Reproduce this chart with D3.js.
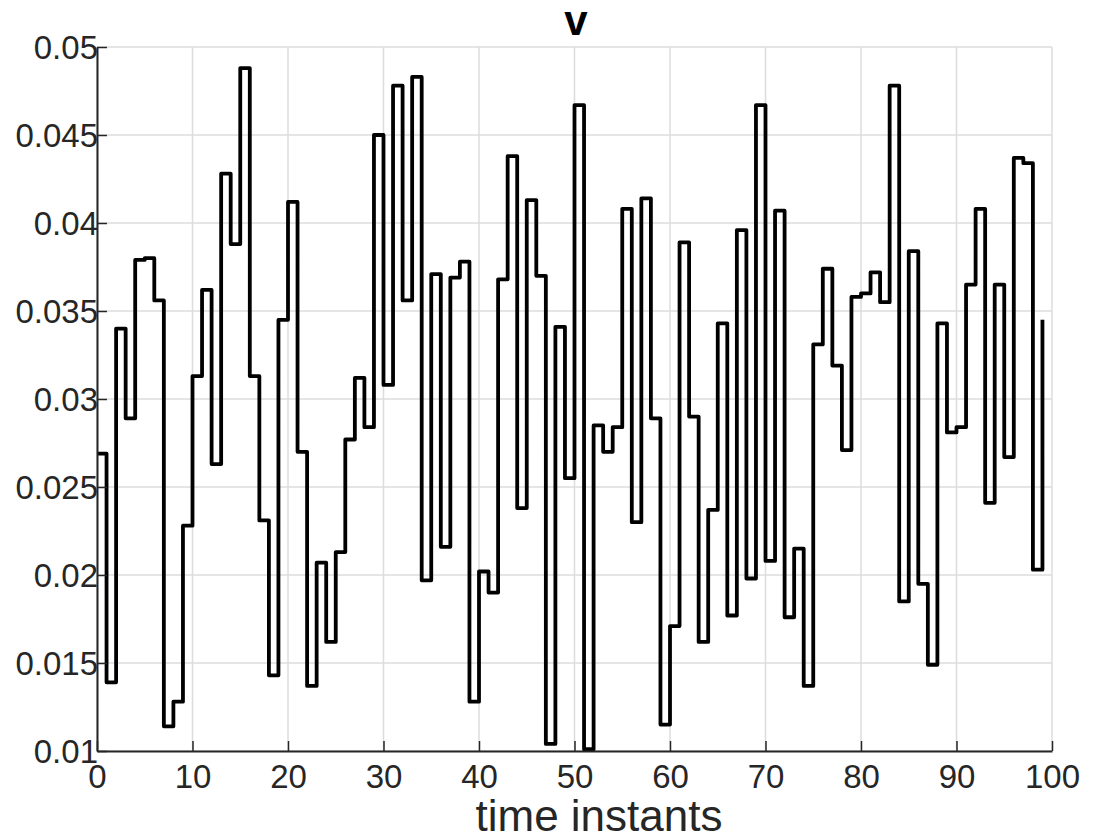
<!DOCTYPE html>
<html>
<head>
<meta charset="utf-8">
<script src="https://cdn.jsdelivr.net/npm/d3@7"></script>
<style>
  body { margin: 0; background: #fff; }
  svg { display: block; font-family: "Liberation Sans", Arial, sans-serif; }
</style>
</head>
<body>
<div id="chart"></div>
<script>
// time instants 0..99
const steps = d3.range(0, 100);

// v value at each time instant
const vValues = [
  0.0269, 0.0139, 0.0340, 0.0289, 0.0379, 0.0380, 0.0356, 0.0114, 0.0128, 0.0228,
  0.0313, 0.0362, 0.0263, 0.0428, 0.0388, 0.0488, 0.0313, 0.0231, 0.0143, 0.0345,
  0.0412, 0.0270, 0.0137, 0.0207, 0.0162, 0.0213, 0.0277, 0.0312, 0.0284, 0.0450,
  0.0308, 0.0478, 0.0356, 0.0483, 0.0197, 0.0371, 0.0216, 0.0369, 0.0378, 0.0128,
  0.0202, 0.0190, 0.0368, 0.0438, 0.0238, 0.0413, 0.0370, 0.0104, 0.0341, 0.0255,
  0.0467, 0.0101, 0.0285, 0.0270, 0.0284, 0.0408, 0.0230, 0.0414, 0.0289, 0.0115,
  0.0171, 0.0389, 0.0290, 0.0162, 0.0237, 0.0343, 0.0177, 0.0396, 0.0198, 0.0467,
  0.0208, 0.0407, 0.0176, 0.0215, 0.0137, 0.0331, 0.0374, 0.0319, 0.0271, 0.0358,
  0.0360, 0.0372, 0.0355, 0.0478, 0.0185, 0.0384, 0.0195, 0.0149, 0.0343, 0.0281,
  0.0284, 0.0365, 0.0408, 0.0241, 0.0365, 0.0267, 0.0437, 0.0434, 0.0203, 0.0345
];

const xTicks = [0, 10, 20, 30, 40, 50, 60, 70, 80, 90, 100];
const yTicks = [0.01, 0.015, 0.02, 0.025, 0.03, 0.035, 0.04, 0.045, 0.05];
const yTickLabels = ['0.01', '0.015', '0.02', '0.025', '0.03', '0.035', '0.04', '0.045', '0.05'];

const width = 1094, height = 840;
const margin = { top: 47, right: 42, bottom: 89, left: 97 };

const svg = d3.select('#chart').append('svg')
  .attr('width', width)
  .attr('height', height);

const x = d3.scaleLinear().domain([0, 100]).range([margin.left, width - margin.right]);
const y = d3.scaleLinear().domain([0.01, 0.05]).range([height - margin.bottom, margin.top]);

// grid
svg.append('g')
  .selectAll('line')
  .data(xTicks)
  .enter().append('line')
  .attr('x1', d => x(d)).attr('x2', d => x(d))
  .attr('y1', y(0.01)).attr('y2', y(0.05))
  .attr('stroke', '#dcdcdc')
  .attr('stroke-width', 1.5);

svg.append('g')
  .selectAll('line')
  .data(yTicks)
  .enter().append('line')
  .attr('x1', x(0)).attr('x2', x(100))
  .attr('y1', d => y(d)).attr('y2', d => y(d))
  .attr('stroke', '#dcdcdc')
  .attr('stroke-width', 1.5);

// clip the stairs to the axes box
svg.append('clipPath').attr('id', 'plot-clip')
  .append('rect')
  .attr('x', x(0)).attr('y', y(0.05))
  .attr('width', x(100) - x(0))
  .attr('height', y(0.01) - y(0.05));

const line = d3.line()
  .curve(d3.curveStepAfter)
  .x(d => x(d[0]))
  .y(d => y(d[1]));

svg.append('path')
  .datum(steps.map((t, i) => [t, vValues[i]]))
  .attr('clip-path', 'url(#plot-clip)')
  .attr('d', line)
  .attr('fill', 'none')
  .attr('stroke', '#000')
  .attr('stroke-width', 3.8)
  .attr('stroke-linejoin', 'round');

// axes (ticks point inward, like matlab)
const xAxis = svg.append('g')
  .attr('transform', `translate(0,${y(0.01)})`)
  .call(d3.axisBottom(x).tickValues(xTicks).tickSizeInner(-10).tickSizeOuter(0).tickPadding(14));

const yAxis = svg.append('g')
  .attr('transform', `translate(${x(0)},0)`)
  .call(d3.axisLeft(y).tickValues(yTicks).tickFormat((d, i) => yTickLabels[i])
    .tickSizeInner(-10).tickSizeOuter(0).tickPadding(0));

[xAxis, yAxis].forEach(g => {
  g.select('.domain').attr('stroke', '#262626').attr('stroke-width', 2);
  g.selectAll('.tick line').attr('stroke', '#262626').attr('stroke-width', 1.5);
  g.selectAll('.tick text')
    .attr('fill', '#262626')
    .style('font-size', '33px')
    .style('font-family', '"Liberation Sans", Arial, sans-serif');
});
yAxis.selectAll('.tick text').attr('x', 1).attr('dy', '0.35em');
xAxis.selectAll('.tick text').attr('dy', '0.69em');

// title and x label
svg.append('text')
  .attr('x', 576)
  .attr('y', 35)
  .attr('text-anchor', 'middle')
  .style('font-size', '42px')
  .style('font-weight', 'bold')
  .attr('fill', '#000')
  .text('v');

svg.append('text')
  .attr('x', 599)
  .attr('y', 831)
  .attr('text-anchor', 'middle')
  .style('font-size', '44px')
  .attr('fill', '#262626')
  .text('time instants');
</script>
</body>
</html>
